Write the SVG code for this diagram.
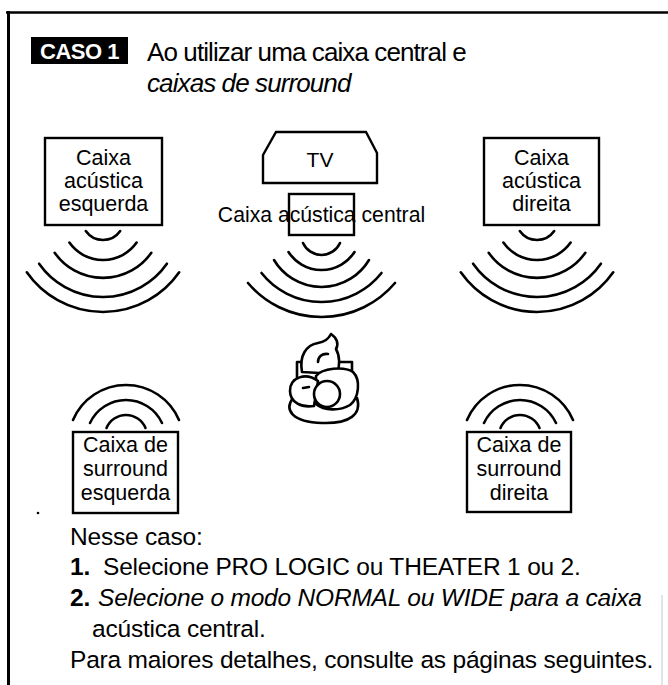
<svg xmlns="http://www.w3.org/2000/svg" width="668" height="685" viewBox="0 0 668 685">
  <style>
    text { font-family: "Liberation Sans", Arial, Helvetica, sans-serif; fill: #000; }
    .box { fill: none; stroke: #000; stroke-width: 2.4; }
    .wave { fill: none; stroke: #000; stroke-width: 2.6; stroke-linecap: round; }
    .lbl { font-size: 21.5px; text-anchor: middle; }
    .lbl2 { font-size: 21.5px; text-anchor: middle; }
    .body { font-size: 24.5px; letter-spacing: -0.2px; }
    .title { font-size: 26px; letter-spacing: -0.9px; }
    .fig { fill: #fff; stroke: #000; stroke-width: 2.6; stroke-linejoin: round; stroke-linecap: round; }
  </style>
  <defs>
    <!-- sound waves radiating downward from a front speaker -->
    <g id="waves-down" class="wave">
      <path d="M -17.2 12.1 A 21 21 0 0 0 17.2 12.1"/>
      <path d="M -33.6 23.5 A 41 41 0 0 0 33.6 23.5"/>
      <path d="M -48.3 33.8 A 59 59 0 0 0 48.3 33.8"/>
      <path d="M -63.9 44.7 A 78 78 0 0 0 63.9 44.7"/>
      <path d="M -76.2 53.3 A 93 93 0 0 0 76.2 53.3"/>
    </g>
    <!-- sound waves radiating upward from a surround speaker -->
    <g id="waves-up" class="wave">
      <path d="M -19.5 -4 A 21.1 21.1 0 0 1 19.5 -4"/>
      <path d="M -36 -9 A 39.7 39.7 0 0 1 36 -9"/>
      <path d="M -53 -12 A 57.6 57.6 0 0 1 53 -12"/>
    </g>
  </defs>

  <rect width="668" height="685" fill="#fff"/>

  <!-- page frame -->
  <g id="frame" fill="none" stroke="#000">
    <path d="M 6 12.5 L 668 12.5" stroke-width="2.6"/>
    <path d="M 8.5 11 L 8.5 685" stroke-width="3"/>
    <path d="M 662 595 L 662 685" stroke="#c8c8c8" stroke-width="1"/>
  </g>

  <!-- heading -->
  <g id="heading">
    <rect x="31" y="37" width="97" height="27" fill="#000"/>
    <text x="79.5" y="58.5" font-size="22" font-weight="bold" text-anchor="middle" style="fill:#fff" letter-spacing="-0.5">CASO 1</text>
    <text class="title" x="147" y="61">Ao utilizar uma caixa central e</text>
    <text class="title" x="147" y="92" font-style="italic">caixas de surround</text>
  </g>

  <!-- front left speaker -->
  <g id="speaker-front-left">
    <rect class="box" x="45" y="138" width="117" height="87"/>
    <text class="lbl" x="103.5" y="165">Caixa</text>
    <text class="lbl" x="103.5" y="188">acústica</text>
    <text class="lbl" x="103.5" y="211">esquerda</text>
    <use href="#waves-down" x="103" y="219"/>
  </g>

  <!-- television with the centre speaker below it -->
  <g id="tv">
    <path class="box" d="M 276 132 L 366 132 L 377 153 L 377 183 L 263 183 L 263 155 Z"/>
    <text x="320" y="167" font-size="21" text-anchor="middle">TV</text>
  </g>

  <g id="speaker-center">
    <rect class="box" x="289" y="194" width="65" height="41"/>
    <text x="321.5" y="222" font-size="21.2" text-anchor="middle">Caixa acústica central</text>
    <g class="wave">
      <path d="M 303 243 A 20.3 20.3 0 0 0 340 243"/>
      <path d="M 288.5 252 A 39.3 39.3 0 0 0 354.5 252"/>
      <path d="M 274 260 A 55.3 55.3 0 0 0 369 260"/>
      <path d="M 261.5 273 A 76.6 76.6 0 0 0 381.5 273"/>
      <path d="M 248 283 A 96.4 96.4 0 0 0 395 283"/>
    </g>
  </g>

  <!-- front right speaker -->
  <g id="speaker-front-right">
    <rect class="box" x="484" y="138" width="115" height="87"/>
    <text class="lbl" x="541.5" y="165">Caixa</text>
    <text class="lbl" x="541.5" y="188">acústica</text>
    <text class="lbl" x="541.5" y="211">direita</text>
    <use href="#waves-down" x="537" y="219"/>
  </g>

  <!-- listener seated on a cushion, seen from above -->
  <g id="listener">
    <path class="fig" d="M 293 398 C 284 410 292 422 322 423 C 350 424 362 414 357 398 Z"/>
    <path class="fig" d="M 297 380 L 297 362 L 352 362 L 352 380 Z"/>
    <path class="fig" d="M 302 372 C 299 356 306 345 318 343 C 325 342 329 338 331 334 C 337 338 339 344 336 349 C 340 356 340 366 337 374 Z"/>
    <path class="fig" d="M 316 376 C 322 368 344 366 353 372 C 361 380 359 398 350 405 C 340 411 324 411 316 404 Z"/>
    <path class="fig" d="M 318 381 C 306 372 290 377 290 391 C 290 402 301 408 314 406 Z"/>
    <circle class="fig" cx="327" cy="394" r="13"/>
    <path class="fig" d="M 318 362 C 318 357 322 353 328 354" fill="none"/>
    <path class="fig" d="M 303 388 L 309 387" fill="none"/>
  </g>

  <!-- surround left speaker -->
  <g id="speaker-surround-left">
    <use href="#waves-up" x="126" y="432"/>
    <rect class="box" x="73" y="432" width="105" height="81"/>
    <text class="lbl2" x="125.5" y="452">Caixa de</text>
    <text class="lbl2" x="125.5" y="476">surround</text>
    <text class="lbl2" x="125.5" y="500">esquerda</text>
  </g>

  <!-- surround right speaker -->
  <g id="speaker-surround-right">
    <use href="#waves-up" x="520" y="432"/>
    <rect class="box" x="467" y="432" width="104" height="80"/>
    <text class="lbl2" x="519" y="452">Caixa de</text>
    <text class="lbl2" x="519" y="476">surround</text>
    <text class="lbl2" x="519" y="500">direita</text>
  </g>

  <circle cx="38" cy="513" r="1.3" fill="#000"/>

  <!-- instructions -->
  <g id="notes">
    <text class="body" x="70" y="545">Nesse caso:</text>
    <text class="body" x="70" y="575" font-weight="bold">1.</text>
    <text class="body" x="103" y="575">Selecione PRO LOGIC ou THEATER 1 ou 2.</text>
    <text class="body" x="70" y="606" font-weight="bold">2.</text>
    <text class="body" x="98" y="606" font-style="italic">Selecione o modo NORMAL ou WIDE para a caixa</text>
    <text class="body" x="92" y="637">acústica central.</text>
    <text class="body" x="70" y="668">Para maiores detalhes, consulte as páginas seguintes.</text>
  </g>
</svg>
